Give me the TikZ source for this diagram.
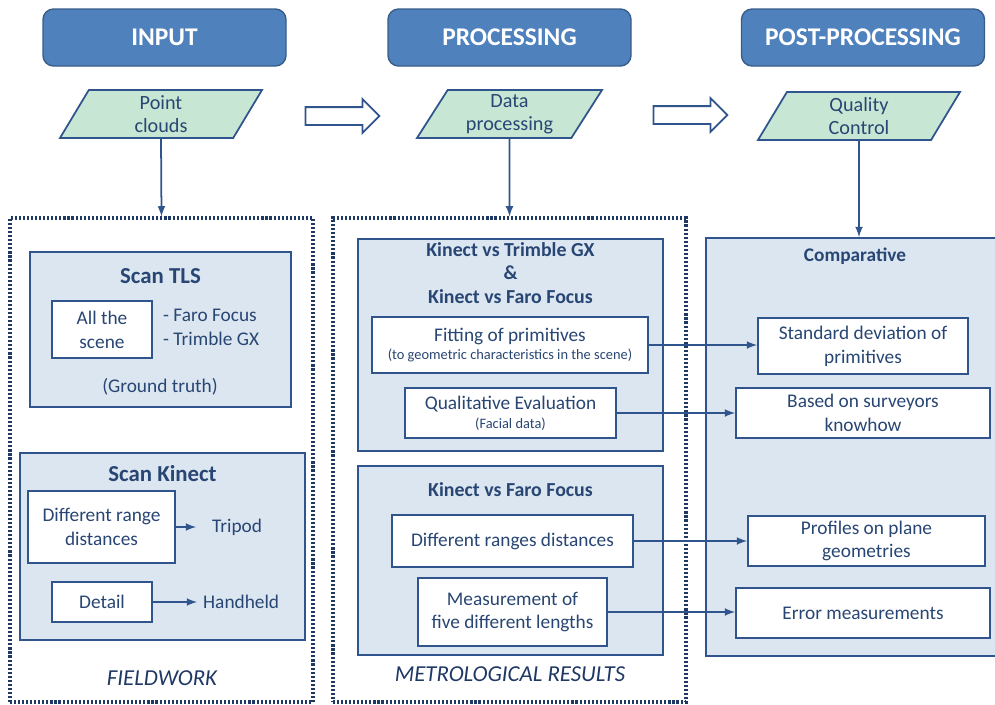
\documentclass[tikz,border=0pt]{standalone}
\usepackage{fontspec}
\setmainfont{Carlito}
\usetikzlibrary{shapes, shapes.geometric, shapes.arrows, arrows, positioning}

\definecolor{headfill}{RGB}{79,129,189}
\definecolor{headline}{RGB}{56,93,138}
\definecolor{paragreen}{RGB}{200,230,212}
\definecolor{panelfill}{RGB}{220,230,241}
\definecolor{lineblue}{RGB}{47,85,140}
\definecolor{textblue}{RGB}{40,70,115}
\definecolor{navy}{RGB}{31,56,100}

\def\pu{0.02cm}

\tikzstyle{header} = [
    rectangle,
    rounded corners = 6pt,
    minimum width = 243*\pu,
    minimum height = 57*\pu,
    fill = headfill,
    draw = headline,
    line width = 0.8pt,
    text = white,
    font = \fontsize{14.5}{17}\selectfont\bfseries,
]
\tikzstyle{entrada} = [
    trapezium,
    trapezium left angle = 52,
    trapezium right angle = 128,
    trapezium stretches body,
    minimum height = 48*\pu,
    fill = paragreen,
    draw = lineblue,
    line width = 1pt,
    text = textblue,
    align = center,
    inner sep = 0pt,
    font = \fontsize{11.5}{13}\selectfont,
]
\tikzstyle{hueca} = [
    single arrow,
    draw = lineblue,
    fill = white,
    line width = 1pt,
    inner xsep = 0pt,
    inner ysep = 8*\pu,
    single arrow head extend = 8*\pu,
    minimum height = 74*\pu,
]
\tikzstyle{zona} = [
    rectangle,
    draw = navy,
    line width = 1.8pt,
    dash pattern = on 1.2pt off 1.1pt,
]
\tikzstyle{panel} = [
    rectangle,
    draw = lineblue,
    line width = 1.1pt,
    fill = panelfill,
]
\tikzstyle{caja} = [
    rectangle,
    draw = lineblue,
    line width = 1.1pt,
    fill = white,
    text = textblue,
    align = center,
    inner sep = 0pt,
    font = \fontsize{11}{13.5}\selectfont,
]
\tikzstyle{titulo} = [text = textblue, align = center, font = \fontsize{13}{13.6}\selectfont\bfseries]
\tikzstyle{texto} = [text = textblue, align = left, font = \fontsize{11}{13.5}\selectfont]
\tikzstyle{etiqueta} = [text = navy, font = \fontsize{13}{15}\selectfont\itshape]
\tikzset{tam/.style 2 args = {minimum width = #1*\pu, minimum height = #2*\pu}}

\begin{document}
\begin{tikzpicture} [x = 0.02cm, y = -0.02cm, >=latex]
    \useasboundingbox (0, 0) rectangle (995, 704);

    % column headers
    \node (Input) [header] at (164.5, 37.5) {INPUT};
    \node (Processing) [header] at (509.5, 37.5) {PROCESSING};
    \node (Post) [header] at (863, 37.5) {POST-PROCESSING};

    \node (Nube) [entrada, minimum width = 202*\pu] at (161, 114) {Point\\clouds};
    \node (Datos) [entrada, minimum width = 185*\pu] at (509.5, 114) {Data\\processing};
    \node (Calidad) [entrada, minimum width = 202*\pu] at (859, 116) {Quality\\Control};

    \node (Flecha1) [hueca] at (338, 116) {};
    \node (Flecha2) [hueca] at (686, 115) {};

    % dotted frames
    \node (Campo) [zona, tam = {303}{484}] at (161.5, 460) {};
    \node (Metro) [zona, tam = {353}{484}] at (509.5, 460) {};

    % fieldwork
    \node (TLS) [panel, tam = {261}{155}] at (160.5, 329.5) {};
    \node (TLSTitulo) [titulo] at (160.5, 276) {Scan TLS};
    \node (Escena) [caja, tam = {100}{57}] at (102, 329.5) {All the\\scene};
    \node (Equipos) [texto, anchor = west] at (157, 327) {- Faro Focus\\- Trimble GX};
    \node (Verdad) [texto] at (160, 387) {(Ground truth)};

    \node (Kinect) [panel, tam = {285}{187}] at (162.5, 546.5) {};
    \node (KinectTitulo) [titulo] at (162.5, 474) {Scan Kinect};
    \node (Rango) [caja, tam = {147}{72}] at (101.5, 527) {Different range\\distances};
    \node (Tripode) [texto, anchor = west] at (206, 527) {Tripod};
    \node (Detalle) [caja, tam = {100}{40}] at (102, 602) {Detail};
    \node (Mano) [texto, anchor = west] at (197, 602) {Handheld};

    \node (Fieldwork) [etiqueta] at (162, 678) {FIELDWORK};

    % metrological results
    \node (Comp1) [panel, tam = {305}{212}] at (510.5, 345) {};
    \node (Comp1Titulo) [titulo, font = \fontsize{11.3}{13.6}\selectfont\bfseries] at (510.5, 273) {Kinect vs Trimble GX\\\&\\Kinect vs Faro Focus};
    \node (Ajuste) [caja, tam = {276}{56}] at (510, 345) {Fitting of primitives\\[-3pt]{\fontsize{8.2}{9}\selectfont(to geometric characteristics in the scene)}};
    \node (Cualitativa) [caja, tam = {211}{50}] at (510.5, 413) {Qualitative Evaluation\\[-2.5pt]{\fontsize{8.2}{9}\selectfont(Facial data)}};

    \node (Comp2) [panel, tam = {305}{189}] at (510.5, 560.5) {};
    \node (Comp2Titulo) [titulo, font = \fontsize{11.3}{13.6}\selectfont\bfseries] at (510.5, 490) {Kinect vs Faro Focus};
    \node (Rangos) [caja, tam = {241}{52}] at (512.5, 541) {Different ranges distances};
    \node (Medida) [caja, tam = {189}{68}] at (512.5, 612) {Measurement of\\five different lengths};

    \node (Metrological) [etiqueta] at (510, 674) {METROLOGICAL RESULTS};

    % post-processing
    \node (Comparativa) [panel, tam = {300}{418}] at (856, 447) {};
    \node (CompTitulo) [titulo, font = \fontsize{11}{13}\selectfont\bfseries] at (855, 256) {Comparative};
    \node (Desviacion) [caja, tam = {210}{56}] at (863, 346) {Standard deviation of\\primitives};
    \node (Topografo) [caja, tam = {254}{50}] at (863, 413) {Based on surveyors\\knowhow};
    \node (Perfiles) [caja, tam = {237}{50}] at (866.5, 541) {Profiles on plane\\geometries};
    \node (Error) [caja, tam = {254}{50}] at (863, 613) {Error measurements};

    % connectors
    \draw[->, draw = lineblue, line width = 1pt] (Nube.south) -- (Campo.north);
    \draw[->, draw = lineblue, line width = 1pt] (Datos.south) -- (Metro.north);
    \draw[->, draw = lineblue, line width = 1pt] (Calidad.south) -- (Calidad.south |- Comparativa.north);

    \draw[->, draw = lineblue, line width = 1pt, shorten > = 10*\pu] (Rango.east) -- (Tripode.west);
    \draw[->, draw = lineblue, line width = 1pt] (Detalle.east) -- (Mano.west);

    \draw[->, draw = lineblue, line width = 1pt] (Ajuste.east) -- (Ajuste.east -| Desviacion.west);
    \draw[->, draw = lineblue, line width = 1pt] (Cualitativa.east) -- (Cualitativa.east -| Topografo.west);
    \draw[->, draw = lineblue, line width = 1pt] (Rangos.east) -- (Rangos.east -| Perfiles.west);
    \draw[->, draw = lineblue, line width = 1pt] (Medida.east) -- (Medida.east -| Error.west);
\end{tikzpicture}
\end{document}
